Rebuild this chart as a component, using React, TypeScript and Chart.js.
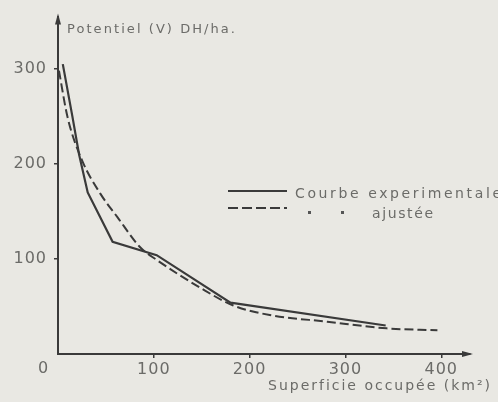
import React, { useEffect, useRef } from "react";
import { Chart, registerables } from "chart.js";

Chart.register(...registerables);

// Experimental curve (solid)
const expX = [5, 15, 22, 31, 57, 103, 180, 342];
const expY = [305, 250, 210, 170, 118, 104, 54, 30];

// Fitted curve (dashed)
const fitX = [1, 10, 25, 44, 62, 86, 103, 148, 183, 221, 281, 343, 396];
const fitY = [298, 249, 204, 169, 144, 112, 99, 70, 51, 41, 34, 27, 25];

const xTicks = [100, 200, 300, 400];
const yTicks = [100, 200, 300];

const yTitle = "Potentiel (V) DH/ha.";
const xTitle = "Superficie occupée (km²)";
const legendSolid = "Courbe experimentale";
const legendDashed = "ajustée";

const BG = "#e9e8e3";
const INK = "#3a3a3a";
const TEXT = "#6b6b68";
const FONT = "'DejaVu Sans', sans-serif";

function fitText(c: CanvasRenderingContext2D, text: string, x: number, y: number, width: number) {
  c.letterSpacing = "0px";
  const w = c.measureText(text).width;
  const n = Array.from(text).length;
  const ls = (width - w) / Math.max(1, n - 1);
  c.letterSpacing = `${ls}px`;
  c.fillText(text, x, y);
  c.letterSpacing = "0px";
}

export default function App() {
  const ref = useRef<HTMLCanvasElement | null>(null);

  useEffect(() => {
    if (!ref.current) return;
    const deco = {
      id: "deco",
      beforeDraw(chart: any) {
        const c = chart.ctx;
        c.save();
        c.fillStyle = BG;
        c.fillRect(0, 0, chart.width, chart.height);
        c.restore();
        c.letterSpacing = "1px";
      },
      afterDraw(chart: any) {
        const c = chart.ctx;
        const a = chart.chartArea;
        const xs = chart.scales.x;
        c.save();
        c.letterSpacing = "0px";
        // arrows
        c.fillStyle = INK;
        c.beginPath();
        c.moveTo(a.left, a.top - 3);
        c.lineTo(a.left - 3, a.top + 8);
        c.lineTo(a.left + 3, a.top + 8);
        c.closePath();
        c.fill();
        c.beginPath();
        c.moveTo(a.right + 3, a.bottom);
        c.lineTo(a.right - 8, a.bottom - 3);
        c.lineTo(a.right - 8, a.bottom + 3);
        c.closePath();
        c.fill();

        // texts
        c.fillStyle = TEXT;
        c.textBaseline = "middle";
        c.textAlign = "left";
        c.font = `16px ${FONT}`;
        c.fillText("0", xs.getPixelForValue(0) - 20, 369);

        c.font = `13px ${FONT}`;
        fitText(c, yTitle, 67, 30, 168);

        c.font = `14px ${FONT}`;
        fitText(c, xTitle, 268, 386, 222);

        // legend
        const lx0 = 228, lx1 = 287;
        c.strokeStyle = INK;
        c.lineWidth = 2.2;
        c.setLineDash([]);
        c.beginPath();
        c.moveTo(lx0, 191);
        c.lineTo(lx1, 191);
        c.stroke();
        c.setLineDash([10, 4]);
        c.lineWidth = 2;
        c.beginPath();
        c.moveTo(lx0, 208);
        c.lineTo(lx1, 208);
        c.stroke();
        c.setLineDash([]);
        c.font = `14px ${FONT}`;
        fitText(c, legendSolid, 295, 194, 206);
        fitText(c, legendDashed, 372, 214, 61);
        c.fillStyle = "#555";
        c.fillRect(308, 211, 3, 3);
        c.fillRect(341, 211, 3, 3);
        c.restore();
      },
    };

    const chart = new Chart(ref.current, {
      type: "line",
      data: {
        datasets: [
          {
            label: legendSolid,
            data: expX.map((x, i) => ({ x, y: expY[i] })),
            borderColor: INK,
            borderWidth: 2.2,
            pointRadius: 0,
            tension: 0,
            fill: false,
          },
          {
            label: legendDashed,
            data: fitX.map((x, i) => ({ x, y: fitY[i] })),
            borderColor: INK,
            borderWidth: 2,
            borderDash: [9, 4],
            pointRadius: 0,
            cubicInterpolationMode: "monotone",
            fill: false,
          },
        ],
      },
      options: {
        responsive: false,
        animation: false,
        layout: { padding: { top: 15, right: 28, bottom: 0, left: 0 } },
        plugins: { legend: { display: false }, tooltip: { enabled: false } },
        scales: {
          x: {
            type: "linear",
            min: 0,
            max: 430,
            afterBuildTicks: (s: any) => {
              s.ticks = xTicks.map((v) => ({ value: v }));
            },
            afterFit: (s: any) => {
              s.height = 48;
            },
            grid: { drawOnChartArea: false, drawTicks: true, tickLength: 4, color: INK, lineWidth: 1.5 },
            border: { display: true, color: INK, width: 2 },
            ticks: {
              color: TEXT,
              font: { family: FONT, size: 16 },
              padding: 2,
              maxRotation: 0,
              autoSkip: false,
            },
          },
          y: {
            type: "linear",
            min: 0,
            max: 355,
            afterBuildTicks: (s: any) => {
              s.ticks = yTicks.map((v) => ({ value: v }));
            },
            afterFit: (s: any) => {
              s.width = 58;
            },
            grid: { drawOnChartArea: false, drawTicks: true, tickLength: 4, color: INK, lineWidth: 1.5 },
            border: { display: true, color: INK, width: 2 },
            ticks: {
              color: TEXT,
              font: { family: FONT, size: 16 },
              padding: 7,
              autoSkip: false,
            },
          },
        },
      },
      plugins: [deco],
    } as any);
    return () => chart.destroy();
  }, []);

  return (
    <div style={{ position: "fixed", left: 0, top: 0, width: 498, height: 402, background: BG }}>
      <canvas ref={ref} width={498} height={402} />
    </div>
  );
}
